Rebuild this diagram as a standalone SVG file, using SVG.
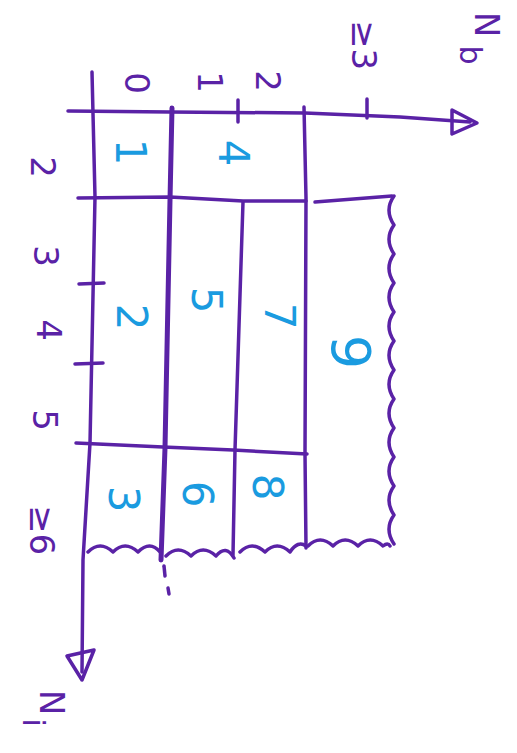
<svg xmlns="http://www.w3.org/2000/svg" width="517" height="753" viewBox="0 0 517 753">
<style>
.ln{fill:none;stroke:#5a22a6;stroke-width:3.5;stroke-linecap:round;stroke-linejoin:round}
.thick{stroke-width:5}
.lab{font-family:"DejaVu Sans","Liberation Sans",sans-serif;font-size:34px;fill:#5a22a6;text-anchor:middle;dominant-baseline:central}
.num{font-family:"DejaVu Sans","Liberation Sans",sans-serif;font-size:42px;fill:#1a9be0;text-anchor:middle;dominant-baseline:central}
</style>
<rect width="517" height="753" fill="#ffffff"/>
<g id="connectors">
<path class="ln" d="M68,111 L170,112 L305,113 L400,117 L470,122"/>
<polygon class="ln" points="452,110 477,123 452,134" fill="#ffffff"/>
<path class="ln" d="M92,72 L95,197 L90,443 L83,560 L82,672"/>
<polygon class="ln" points="67,656 94,650 82,680" fill="#ffffff"/>
<path class="ln" d="M238,100 L238,122"/>
<path class="ln" d="M367,99 L367,118"/>
<path class="ln" d="M79,284 L104,283"/>
<path class="ln" d="M75,364 L103,363"/>
</g>
<g id="grid">
<path class="ln thick" d="M172,108 L170,200 L165,448 L161,560"/>
<path class="ln" d="M164,566 L165,576"/>
<path class="ln" d="M168,588 L169,594"/>
<path class="ln" d="M304,107 L306,198 L305,454 L306,548"/>
<path class="ln" d="M243,202 L235,450 L233,555"/>
<path class="ln" d="M78,198 L170,197 L243,201 L306,201"/>
<path class="ln" d="M315,202 L392,196"/>
<path class="ln" d="M76,443 L163,447 L233,450 L307,454"/>
<path class="ln" d="M394,196 q-10,14 0,29 q-10,14 0,29 q-10,14 0,29 q-10,14 0,29 q-10,14 0,29 q-10,14 0,29 q-10,14 0,29 q-10,14 0,29 q-10,14 0,29 q-10,14 0,29 q-10,14 0,29 q-10,14 0,29"/>
<path class="ln" d="M88,552 q12,-12 25,0 q12,-12 25,0 q12,-12 22,0 M166,556 q12,-12 25,0 q12,-12 25,0 q10,-12 18,2 M240,552 q12,-12 25,0 q12,-12 25,0 q8,-12 16,-6 M308,546 q12,-12 25,0 q12,-12 25,0 q12,-12 25,0 q5,-4 7,0"/>
</g>
<g id="axis-labels">
<text class="lab" transform="translate(137,83) rotate(90)">0</text>
<text class="lab" transform="translate(210,82) rotate(90)">1</text>
<text class="lab" transform="translate(268,81) rotate(90)">2</text>
<text class="lab" transform="translate(364,45) rotate(90)">≥3</text>
<text class="lab" transform="translate(487,12) rotate(90)" style="text-anchor:start">N<tspan dx="8" dy="16" style="font-size:30px">b</tspan></text>
<text class="lab" transform="translate(52,690) rotate(90)" style="text-anchor:start">N<tspan dx="3" dy="18" style="font-size:30px">i</tspan></text>
<text class="lab" transform="translate(43,167) rotate(90)">2</text>
<text class="lab" transform="translate(46,256) rotate(90)">3</text>
<text class="lab" transform="translate(49,330) rotate(90)">4</text>
<text class="lab" transform="translate(45,420) rotate(90)">5</text>
<text class="lab" transform="translate(42,530) rotate(90)">≥6</text>
</g>
<g id="cell-1"><text class="num" transform="translate(130,152) rotate(90)">1</text></g>
<g id="cell-4"><text class="num" transform="translate(233,153) rotate(90)">4</text></g>
<g id="cell-2"><text class="num" transform="translate(131,317) rotate(90)">2</text></g>
<g id="cell-5"><text class="num" transform="translate(206,300) rotate(90)">5</text></g>
<g id="cell-7"><text class="num" transform="translate(279,316) rotate(90)">7</text></g>
<g id="cell-9"><text class="num" transform="translate(350,352) rotate(90)" style="font-size:54px">9</text></g>
<g id="cell-3"><text class="num" transform="translate(123,499) rotate(90)">3</text></g>
<g id="cell-6"><text class="num" transform="translate(197,494) rotate(90)">6</text></g>
<g id="cell-8"><text class="num" transform="translate(267,487) rotate(90)">8</text></g>
</svg>
